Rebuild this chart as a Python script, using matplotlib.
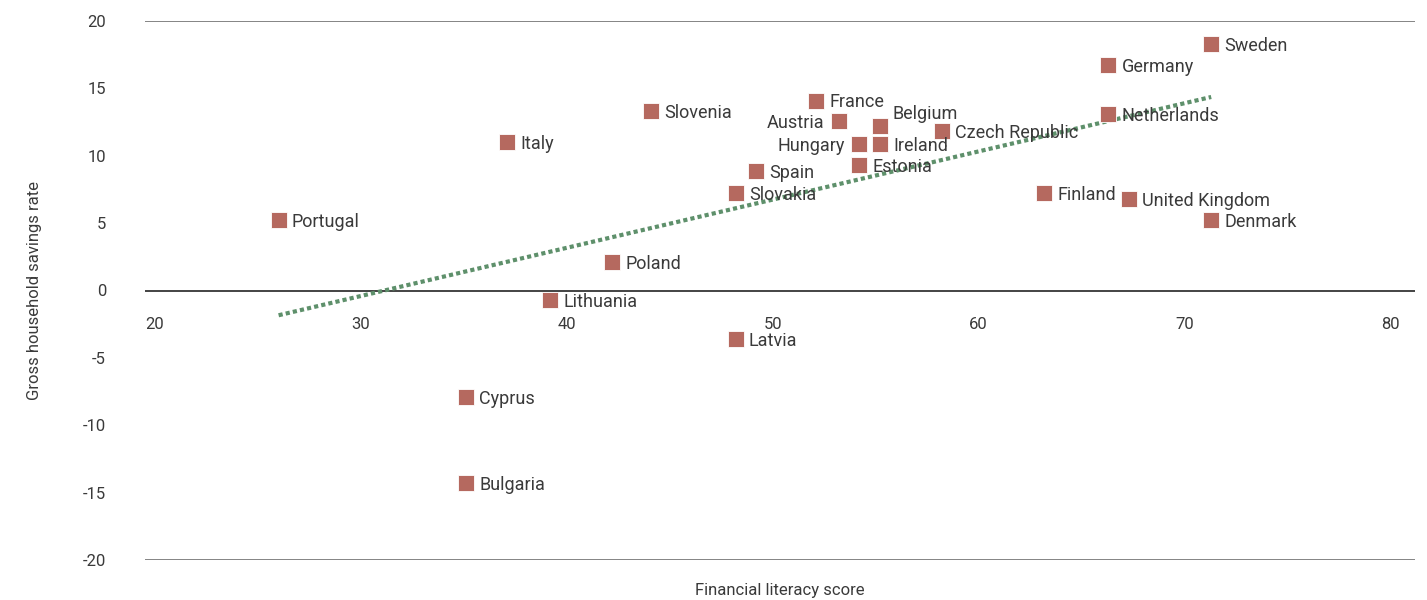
import numpy as np
import matplotlib
matplotlib.use("Agg")
import matplotlib.pyplot as plt

plt.rcParams['font.family'] = ['Roboto', 'DejaVu Sans']

countries = ["Portugal", "Italy", "Slovenia", "Poland", "Lithuania", "Cyprus",
             "Bulgaria", "Latvia", "Slovakia", "Spain", "France", "Austria",
             "Hungary", "Estonia", "Belgium", "Ireland", "Czech Republic",
             "Finland", "Netherlands", "Germany", "United Kingdom", "Sweden",
             "Denmark"]
literacy = [26.0, 37.1, 44.1, 42.2, 39.2, 35.1,
            35.1, 48.2, 48.2, 49.2, 52.1, 53.2,
            54.2, 54.2, 55.2, 55.2, 58.2,
            63.2, 66.3, 66.3, 67.3, 71.3,
            71.3]
savings = [5.2, 11.0, 13.3, 2.1, -0.7, -7.9,
           -14.3, -3.6, 7.2, 8.9, 14.1, 12.6,
           10.9, 9.3, 12.2, 10.9, 11.8,
           7.2, 13.1, 16.7, 6.8, 18.3,
           5.2]

x_ticks = [20, 30, 40, 50, 60, 70, 80]
y_ticks = [-20, -15, -10, -5, 0, 5, 10, 15, 20]

# label placement: which names sit left of their marker, which are raised
left_labels = {"Austria", "Hungary"}
raised_labels = {"Belgium": 10}

marker_color = "#B5695F"
trend_color = "#5E906B"
text_color = "#3a3a3a"

fig = plt.figure(figsize=(14.27, 6.0), dpi=100)
ax = fig.add_axes([145 / 1427, 1 - 560 / 600, (1415 - 145) / 1427, (560 - 21) / 600])

ax.set_xlim(19.51, 81.2)
ax.set_ylim(-20, 20)

# horizontal reference lines
ax.axhline(20, color="#6f6f6f", lw=1.2, zorder=1)
ax.axhline(-20, color="#6f6f6f", lw=1.2, zorder=1)
ax.axhline(0, color="#111111", lw=1.1, zorder=1)

# linear trend line over the data range
xs = np.array(literacy)
ys = np.array(savings)
slope, intercept = np.polyfit(xs, ys, 1)
tx = np.array([xs.min(), xs.max()])
ax.plot(tx, slope * tx + intercept, color=trend_color, lw=3.0,
        linestyle=(0, (1, 0.75)), dash_capstyle="butt", zorder=2)

ax.plot(literacy, savings, linestyle="none", marker="s", ms=11.5,
        mfc=marker_color, mec="white", mew=0.6, zorder=3)

for name, xv, yv in zip(countries, literacy, savings):
    if name in left_labels:
        off, ha = (-10.5, 0), "right"
    else:
        off, ha = (9.5, raised_labels.get(name, 0)), "left"
    ax.annotate(name, (xv, yv), xytext=(off[0], off[1] - 5), textcoords="offset points",
                ha=ha, va="baseline", fontsize=13, color=text_color, zorder=4)

for s in ax.spines.values():
    s.set_visible(False)

ax.set_yticks(y_ticks)
ax.set_yticklabels([str(v) for v in y_ticks])
ax.tick_params(axis="y", length=0, pad=28, labelsize=12, labelcolor=text_color)

# x tick labels sit just under the zero line
for v in x_ticks:
    ax.annotate(str(v), (v, 0), xytext=(0, -19), textcoords="offset points",
                ha="center", va="top", fontsize=12, color=text_color)
ax.set_xticks([])

fig.text(780 / 1427, 1 - 591 / 600, "Financial literacy score", ha="center",
         va="center", fontsize=12, color=text_color)
fig.text(35 / 1427, 1 - 290 / 600, "Gross household savings rate", ha="center",
         va="center", rotation=90, fontsize=12, color=text_color)

fig.savefig("out.png", dpi=100, facecolor="white")
